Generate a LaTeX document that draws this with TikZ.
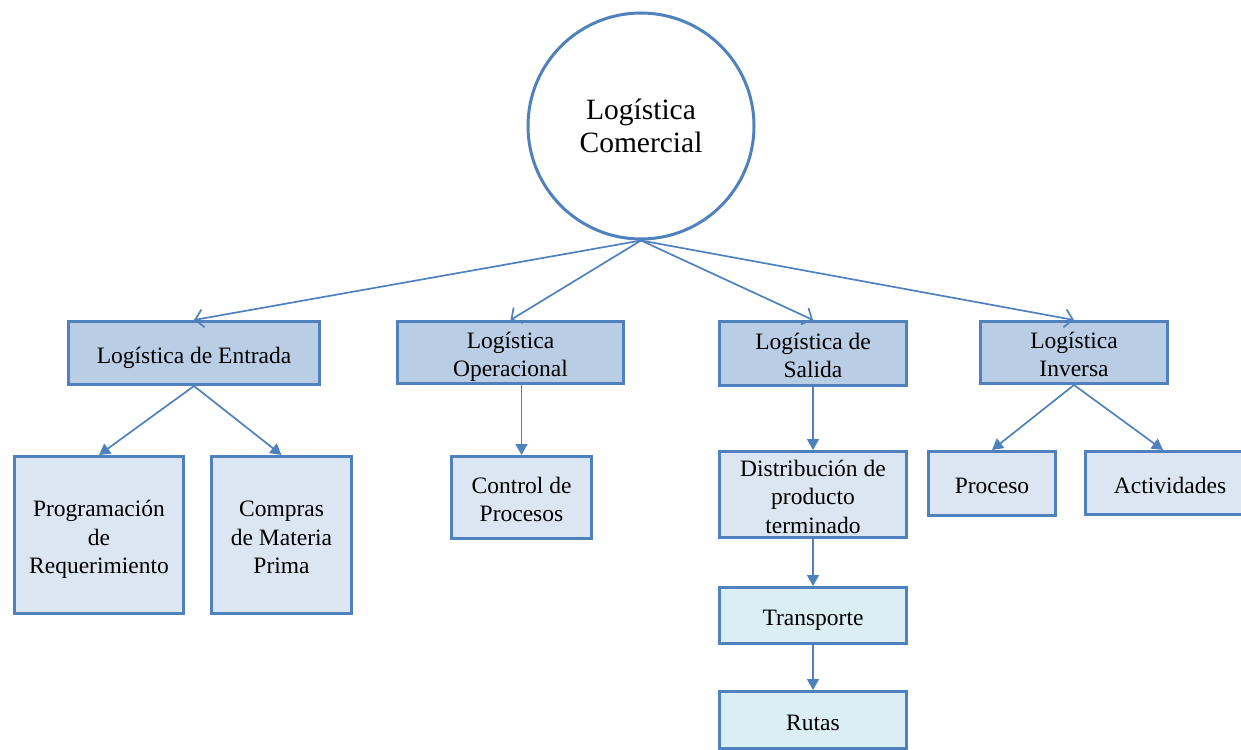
\documentclass[tikz,border=0pt]{standalone}
\usepackage{fontspec}
\setmainfont{Liberation Serif}
\usetikzlibrary{arrows.meta}
\definecolor{edgeblue}{HTML}{4F81BD}
\definecolor{headfill}{HTML}{B9CDE5}
\definecolor{subfill}{HTML}{DCE6F2}
\definecolor{routefill}{HTML}{DBEEF4}
% centred lines of box text, drawn slightly low while keeping the box extents
\newcommand{\boxlines}[1]{\raisebox{-4.5pt}[\height][\depth]{\begin{tabular}{@{}c@{}}#1\end{tabular}}}
\begin{document}
\begin{tikzpicture}[x=1pt,y=-1pt,
  box/.style={draw=edgeblue, line width=3pt, rectangle,
    font=\fontsize{23.5}{28.5}\selectfont, inner sep=0pt},
  headbox/.style={box, fill=headfill},
  subbox/.style={box, fill=subfill},
  routebox/.style={box, fill=routefill},
  conn/.style={draw=edgeblue, line width=1.7pt},
  openarrow/.style={conn, -{Straight Barb[length=8pt,width=18pt,line width=1.7pt]}},
  triarrow/.style={conn, -{Triangle[length=11pt,width=12pt]}}
]
\useasboundingbox (0,0) rectangle (1241,749);

% root
\node[circle, draw=edgeblue, line width=3pt, minimum size=226, align=center,
      font=\fontsize{29.5}{33}\selectfont, inner sep=0pt] (lc) at (641,126) {Logística\\Comercial};

% first level
\node[headbox, minimum width=251, minimum height=63] (ent) at (194,353) {\boxlines{Logística de Entrada}};
\node[headbox, minimum width=226, minimum height=62] (ope) at (510.5,352.5) {\boxlines{Logística\\Operacional}};
\node[headbox, minimum width=187, minimum height=64] (sal) at (813,353.5) {\boxlines{Logística de\\Salida}};
\node[headbox, minimum width=187, minimum height=62] (inv) at (1074,352.5) {\boxlines{Logística\\Inversa}};

% second level
\node[subbox, minimum width=169, minimum height=157] (prog) at (99,535) {\boxlines{Programación\\de\\Requerimiento}};
\node[subbox, minimum width=140, minimum height=157] (comp) at (281.5,535) {\boxlines{Compras\\de Materia\\Prima}};
\node[subbox, minimum width=140, minimum height=82] (ctl) at (521.5,497.5) {\boxlines{Control de\\Procesos}};
\node[subbox, minimum width=187, minimum height=86] (dist) at (813,494.5) {\boxlines{Distribución de\\producto\\terminado}};
\node[subbox, minimum width=127, minimum height=64] (proc) at (992,483.5) {\boxlines{Proceso}};
\node[subbox, minimum width=170, minimum height=63] (act) at (1170,483) {\boxlines{Actividades}};

% distribution chain
\node[routebox, minimum width=187, minimum height=56] (tra) at (813,615.5) {\boxlines{Transporte}};
\node[routebox, minimum width=187, minimum height=57] (rut) at (813,720) {\boxlines{Rutas}};

% connectors
\draw[openarrow] (lc.south) -- (ent.north);
\draw[openarrow] (lc.south) -- (ope.north);
\draw[openarrow] (lc.south) -- (sal.north);
\draw[openarrow] (lc.south) -- (inv.north);

\draw[triarrow] (ent.south) -- (prog.north);
\draw[triarrow] (ent.south) -- (comp.north);
\draw[triarrow] (ctl.north |- ope.south) -- (ctl.north);
\draw[triarrow] (sal.south) -- (dist.north);
\draw[triarrow] (dist.south) -- (tra.north);
\draw[triarrow] (tra.south) -- (rut.north);
\draw[triarrow] (inv.south) -- (proc.north);
\draw[triarrow] (inv.south) -- (act.north -| 1163,0);
\end{tikzpicture}
\end{document}
